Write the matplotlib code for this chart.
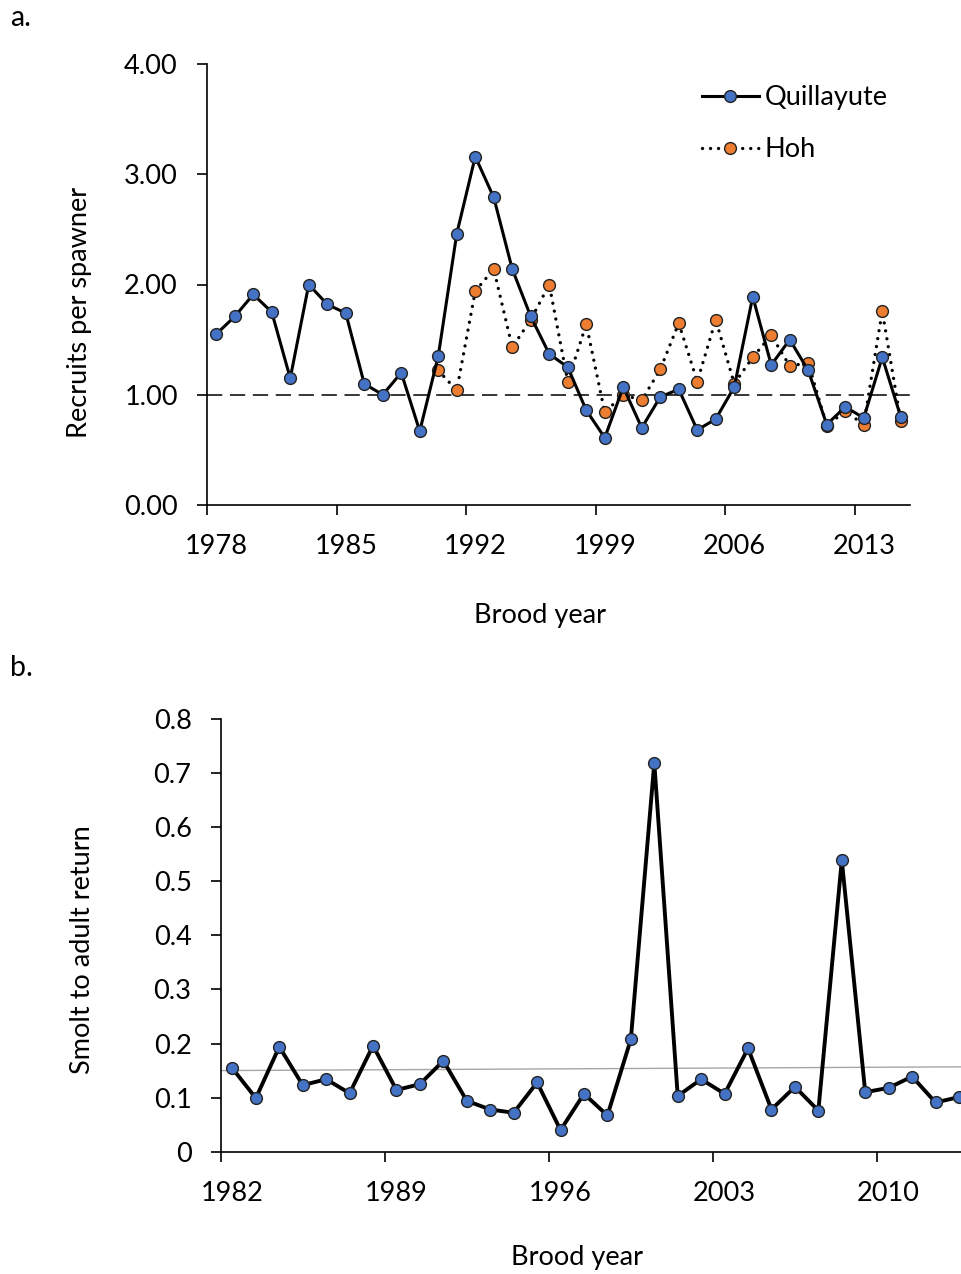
import numpy as np
import matplotlib
matplotlib.use("Agg")
import matplotlib.pyplot as plt
from matplotlib.ticker import FixedLocator, NullFormatter

plt.rcParams['font.family'] = ['Lato', 'DejaVu Sans']

# panel a: recruits per spawner
years_a = np.arange(1978, 2016)
quillayute = [1.55, 1.71, 1.91, 1.75, 1.15, 2.00, 1.82, 1.74, 1.10, 1.00,
              1.20, 0.67, 1.35, 2.46, 3.16, 2.79, 2.14, 1.71, 1.37, 1.25,
              0.86, 0.61, 1.07, 0.70, 0.98, 1.05, 0.68, 0.78, 1.07, 1.89,
              1.27, 1.50, 1.22, 0.73, 0.89, 0.79, 1.34, 0.80]
years_hoh = np.arange(1990, 2016)
hoh = [1.22, 1.04, 1.94, 2.14, 1.43, 1.68, 2.00, 1.12, 1.64, 0.84,
       1.00, 0.95, 1.23, 1.65, 1.12, 1.68, 1.10, 1.34, 1.54, 1.26,
       1.29, 0.72, 0.85, 0.73, 1.76, 0.76]
xlabels_a = [1978, 1985, 1992, 1999, 2006, 2013]

# panel b: smolt to adult return
years_b = np.arange(1982, 2014)
sar = [0.154, 0.099, 0.194, 0.123, 0.134, 0.108, 0.196, 0.114, 0.125, 0.168,
       0.094, 0.078, 0.072, 0.128, 0.040, 0.107, 0.067, 0.208, 0.719, 0.103,
       0.134, 0.107, 0.191, 0.078, 0.120, 0.076, 0.539, 0.110, 0.118, 0.139,
       0.091, 0.101]
xlabels_b = [1982, 1989, 1996, 2003, 2010]
# grey reference line (start / end of the axis)
trend_years = [1981.5, 2013.5]
trend_vals = [0.150, 0.157]

blue = '#4472C4'
orange = '#ED7D31'
fs = 19.5

W, H = 961, 1274
fig = plt.figure(figsize=(W / 100, H / 100), dpi=100)


def style_axes(ax, labels):
    for s in ['top', 'right']:
        ax.spines[s].set_visible(False)
    for s in ['left', 'bottom']:
        ax.spines[s].set_linewidth(1.2)
    # tick marks sit between categories, labels on the categories
    ax.xaxis.set_major_locator(FixedLocator([y - 0.5 for y in labels]))
    ax.xaxis.set_major_formatter(NullFormatter())
    ax.xaxis.set_minor_locator(FixedLocator(labels))
    ax.set_xticklabels([str(y) for y in labels], minor=True)
    ax.tick_params(axis='x', which='major', length=7, width=1.2, direction='out')
    ax.tick_params(axis='x', which='minor', length=0, pad=21, labelsize=fs)
    ax.tick_params(axis='y', length=7, width=1.2, pad=14, labelsize=fs)


# ---- panel a ----
ax1 = fig.add_axes([207 / W, 1 - 505 / H, 703 / W, 441 / H])
ax1.axhline(1.0, color='black', lw=1.1, ls=(0, (10, 5)), zorder=1)
ax1.plot(years_a, quillayute, color='black', lw=2.2, marker='o', ms=8.5,
         mfc=blue, mec='#222222', mew=1.0, label='Quillayute', zorder=3)
ax1.plot(years_hoh, hoh, color='black', lw=2.4, ls=(0, (0.01, 2.4)),
         dash_capstyle='round', marker='o', ms=8.5, mfc=orange, mec='#222222',
         mew=1.0, label='Hoh', zorder=2)
ax1.set_xlim(1977.5, 2015.5)
ax1.set_ylim(0, 4)
ax1.set_yticks([0, 1, 2, 3, 4])
ax1.set_yticklabels(['0.00', '1.00', '2.00', '3.00', '4.00'])
style_axes(ax1, xlabels_a)
ax1.legend(loc='upper left', bbox_to_anchor=(702 / W, 1 - 85 / H),
           bbox_transform=fig.transFigure, frameon=False, fontsize=fs,
           handlelength=2.1, handletextpad=0.2, labelspacing=1.0,
           borderpad=0, borderaxespad=0)

fig.text(540 / W, 1 - 615 / H, 'Brood year', ha='center', va='center', fontsize=fs)
fig.text(80 / W, 1 - 312 / H, 'Recruits per spawner', ha='center', va='center',
         rotation=90, fontsize=fs)
fig.text(10 / W, 1 - 18 / H, 'a.', ha='left', va='center', fontsize=20.5)

# ---- panel b ----
ax2 = fig.add_axes([220.7 / W, 1 - 1151.7 / H, 750 / W, 432.7 / H])
ax2.plot(trend_years, trend_vals, color='#A6A6A6', lw=1.0, zorder=1)
ax2.plot(years_b, sar, color='black', lw=2.8, marker='o', ms=8.5,
         mfc=blue, mec='#222222', mew=1.0, zorder=3)
ax2.set_xlim(1981.5, 2013.5)
ax2.set_ylim(0, 0.8)
yt = np.arange(0, 0.81, 0.1)
ax2.set_yticks(yt)
ax2.set_yticklabels(['0'] + ['%.1f' % v for v in yt[1:]])
style_axes(ax2, xlabels_b)

fig.text(577 / W, 1 - 1258 / H, 'Brood year', ha='center', va='center', fontsize=fs)
fig.text(82 / W, 1 - 950 / H, 'Smolt to adult return', ha='center', va='center',
         rotation=90, fontsize=fs)
fig.text(10 / W, 1 - 668 / H, 'b.', ha='left', va='center', fontsize=20.5)

fig.savefig('out.png', dpi=100)
